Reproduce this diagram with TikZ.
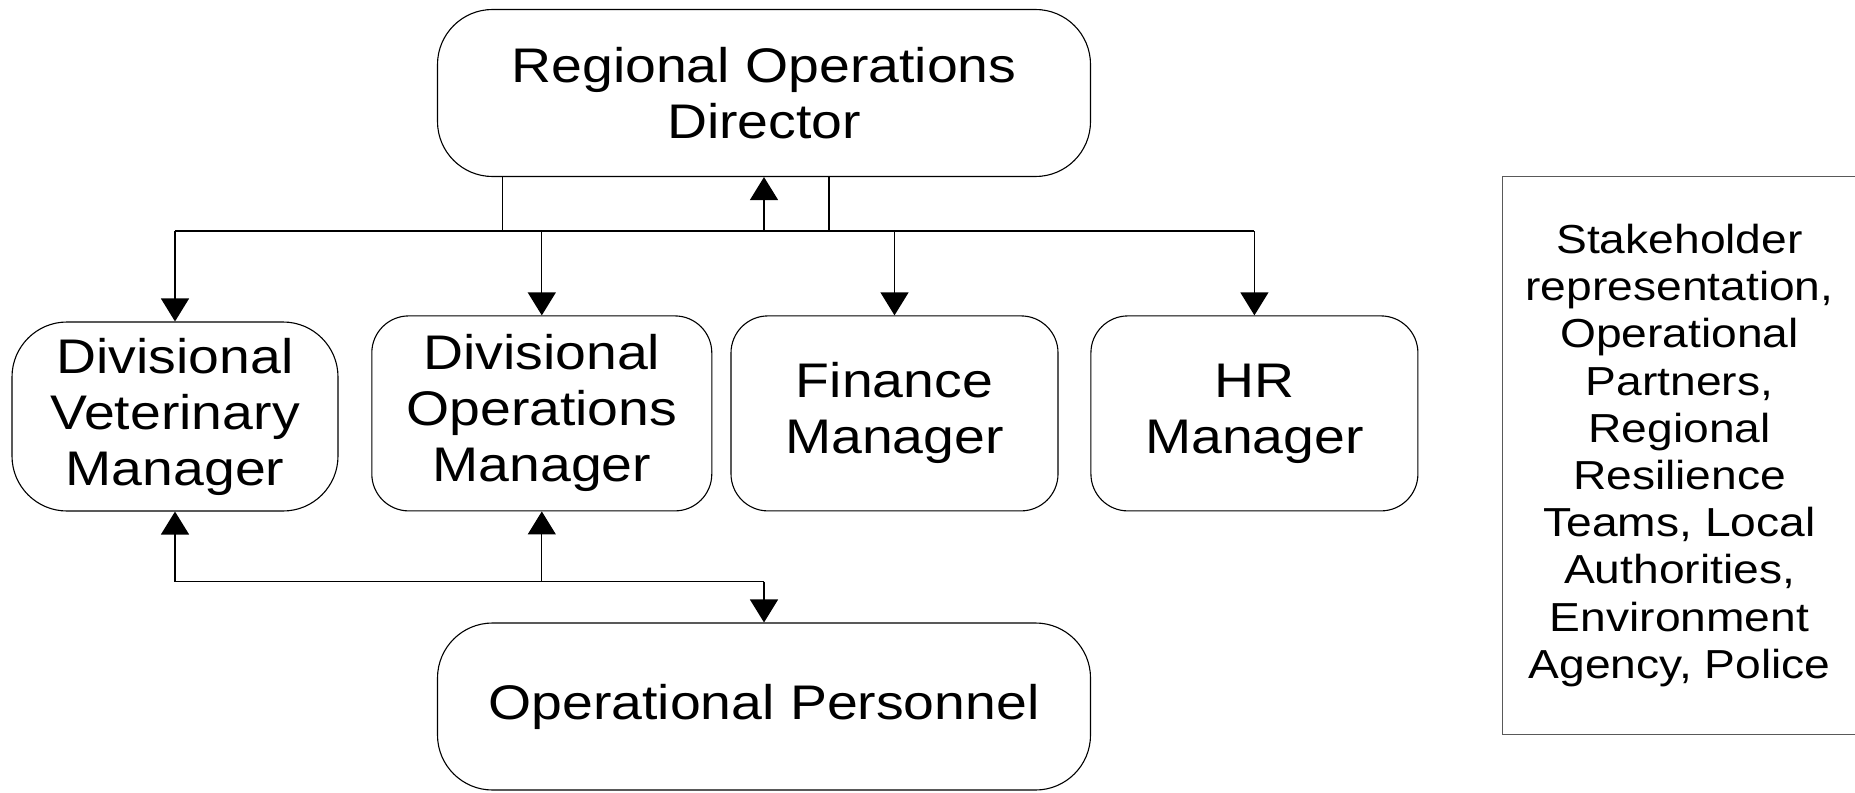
\documentclass[tikz,border=0pt]{standalone}
\usepackage{fontspec}
\setmainfont{Liberation Sans}[FakeStretch=1.14]
\usetikzlibrary{arrows.meta}
\begin{document}
\begin{tikzpicture}[x=0.5pt,y=-0.5pt,
  box/.style={draw=black,line width=0.55pt,align=center,inner sep=0pt,
    font=\fontsize{24.3pt}{28pt}\selectfont},
  bigbox/.style={box,minimum width=326.5pt,minimum height=83.5pt,rounded corners=27.5pt},
  midbox/.style={box,minimum height=97.5pt,rounded corners=18.5pt},
  line/.style={line width=0.65pt},
  arr/.style={line,-{Triangle[length=11.5pt,width=14pt]}}]
\useasboundingbox (0,0) rectangle (1855,792);

\node[bigbox] (rod) at (764,93) {Regional Operations\\Director};
\node[box,minimum width=163pt,minimum height=94.5pt,rounded corners=27.5pt] (dvm) at (175,416.5) {Divisional\\Veterinary\\Manager};
\node[midbox,minimum width=170pt] (dom) at (541.8,413.4) {Divisional\\Operations\\Manager};
\node[midbox,minimum width=163.5pt] (fin) at (894.5,413.4) {Finance\\Manager};
\node[midbox,minimum width=163.5pt] (hr) at (1254.4,413.4) {HR\\Manager};
\node[bigbox] (op) at (764,706.5) {Operational Personnel};
\node[draw=black!65,line width=0.6pt,minimum width=177pt,minimum height=279pt,inner sep=0pt,align=center,
  font=\fontsize{20.25pt}{23.6pt}\selectfont] (sh) at (1679.5,455.5)
  {Stakeholder\\representation,\\Operational\\Partners,\\Regional\\Resilience\\Teams, Local\\Authorities,\\Environment\\Agency, Police};

% top bus
\coordinate (bus) at (0,231);
\coordinate (t1) at (502.8,231);
\coordinate (t2) at (829,231);
\draw[line] (dvm.north |- bus) -- (hr.north |- bus);
\draw[line] (rod.south -| t1) -- (t1);
\draw[line] (rod.south -| t2) -- (t2);
\draw[arr] (rod.south |- bus) -- (rod.south);
\draw[arr] (dvm.north |- bus) -- (dvm.north);
\draw[arr] (dom.north |- bus) -- (dom.north);
\draw[arr] (fin.north |- bus) -- (fin.north);
\draw[arr] (hr.north |- bus) -- (hr.north);

% bottom bus
\coordinate (bbus) at (0,581.5);
\draw[line] (dvm.south |- bbus) -- (op.north |- bbus);
\draw[arr] (dvm.south |- bbus) -- (dvm.south);
\draw[arr] (dom.south |- bbus) -- (dom.south);
\draw[arr] (op.north |- bbus) -- (op.north);
\end{tikzpicture}
\end{document}
